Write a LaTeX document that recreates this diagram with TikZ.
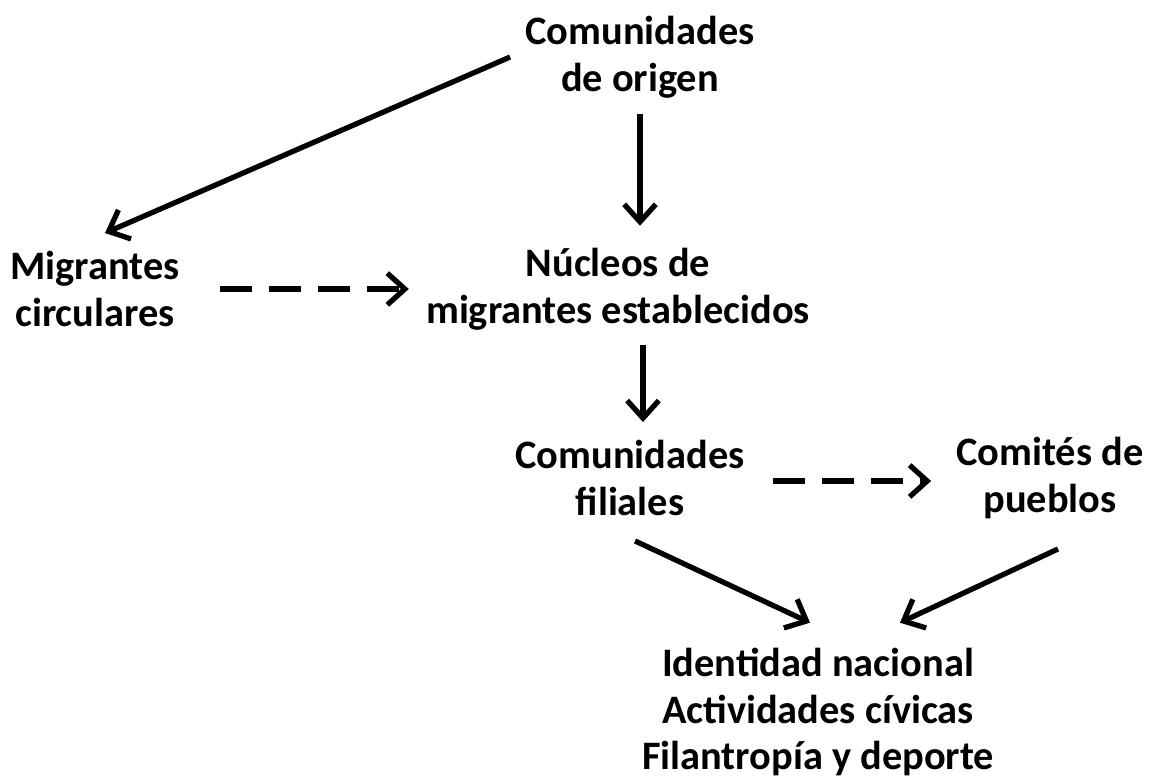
\documentclass[tikz,border=0pt]{standalone}
\usepackage{fontspec}
\setmainfont{Carlito}
\usetikzlibrary{arrows.meta,calc}

\begin{document}
\begin{tikzpicture}[x=0.02cm, y=-0.02cm, >={Straight Barb[length=10pt,width=18pt]},
    lbl/.style={align=center, font=\fontsize{23}{26.5}\selectfont\bfseries, inner sep=0pt},
    flow/.style={->, line width=3pt},
    flowdash/.style={flow, dash pattern=on 18pt off 10pt}]
  \useasboundingbox (0,0) rectangle (1159,783);
  \node[lbl] (origen) at (640,57) {Comunidades\\de origen};
  \node[lbl] (circ) at (95,289) {Migrantes\\circulares};
  \node[lbl] (nucleos) at (618,289) {Núcleos de\\migrantes establecidos};
  \node[lbl] (filiales) at (630,478) {Comunidades\\filiales};
  \node[lbl] (comites) at (1050,478) {Comités de\\pueblos};
  \node[lbl] (ident) at (818,712) {Identidad nacional\\Actividades cívicas\\Filantropía y deporte};
  % connectors
  \draw[flow] ($(origen.west)+(-15,0)$) -- ($(circ.north)+(10,-18)$); % origen -> circulares
  \draw[flow] ($(origen.south)+(0,16)$) -- ($(nucleos.north)+(22,-22)$); % origen -> nucleos
  \draw[flowdash] ($(circ.east)+(40,0)$) -- ($(nucleos.west)+(-17,0)$); % circulares -> nucleos
  \draw[flow] ($(nucleos.south)+(25,15)$) -- ($(filiales.north)+(13,-18)$); % nucleos -> filiales
  \draw[flowdash] ($(filiales.east)+(28,3)$) -- ($(comites.west)+(-25,3)$); % filiales -> comites
  \draw[flow] ($(filiales.south)+(5,25)$) -- ($(ident.north)+(-8,-25)$); % filiales -> ident
  \draw[flow] ($(comites.south)+(8,30)$) -- ($(ident.north)+(82,-25)$); % comites -> ident
\end{tikzpicture}
\end{document}
